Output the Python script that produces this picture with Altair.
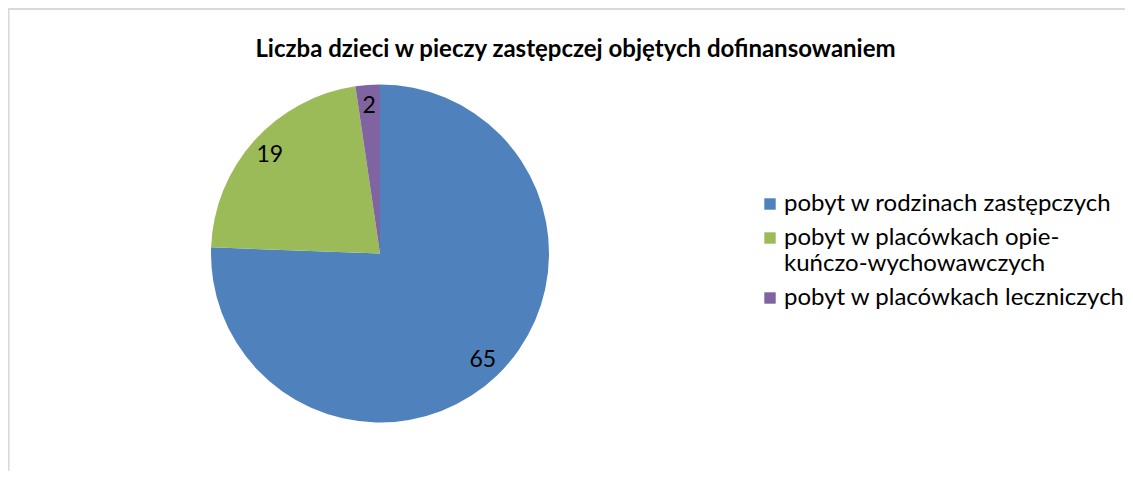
import altair as alt
import pandas as pd

categories = [
    "pobyt w rodzinach zastępczych",
    "pobyt w placówkach opiekuńczo-wychowawczych",
    "pobyt w placówkach leczniczych",
]
values = [65, 19, 2]
colors = ["#4F81BD", "#9BBB59", "#8064A2"]
title_text = "Liczba dzieci w pieczy zastępczej objętych dofinansowaniem"

df = pd.DataFrame({"kategoria": categories, "liczba": values, "kolejnosc": [0, 1, 2]})

FONT = "Lato"
W, H = 1117, 463
CX, CY, R = 372, 245.5, 169

color = alt.Color(
    "kategoria:N",
    scale=alt.Scale(domain=categories, range=colors),
    sort=categories,
    legend=alt.Legend(
        title=None,
        orient="none",
        legendX=750,
        legendY=184,
        symbolType="square",
        symbolSize=130,
        symbolStrokeWidth=0,
        labelFont=FONT,
        labelFontSize=24,
        labelColor="#000000",
        labelLimit=500,
        rowPadding=10,
        labelOffset=2,
        labelExpr="datum.label == 'pobyt w placówkach opiekuńczo-wychowawczych' ? ['pobyt w placówkach opie-', 'kuńczo-wychowawczych'] : datum.label",
    ),
)

base = alt.Chart(df).encode(
    theta=alt.Theta("liczba:Q", stack=True),
    order=alt.Order("kolejnosc:Q"),
)

pie = base.mark_arc(radius=R, x=CX, y=CY).encode(color=color)

labels = base.mark_text(
    radius=148, x=CX, y=CY, font=FONT, fontSize=23, color="#000000"
).encode(text="liczba:Q")

frame_top = alt.Chart(df).mark_rule(color="#d9d9d9", strokeWidth=1.5).encode(
    x=alt.value(0), x2=alt.value(W), y=alt.value(1)
)
frame_left = alt.Chart(df).mark_rule(color="#d9d9d9", strokeWidth=1.5).encode(
    x=alt.value(0.5), y=alt.value(1), y2=alt.value(H)
)

chart = (
    alt.layer(frame_top, frame_left, pie, labels)
    .properties(
        width=W,
        height=H,
        padding=0,
        autosize=alt.AutoSizeParams(type="none"),
        title=alt.TitleParams(
            title_text,
            font=FONT,
            fontSize=24,
            fontWeight="bold",
            color="#000000",
            anchor="middle",
            orient="top",
            offset=-54,
            dx=9,
        ),
    )
    .configure_view(stroke=None)
)

chart.save("out.html", embed_options={"renderer": "svg", "actions": False})
